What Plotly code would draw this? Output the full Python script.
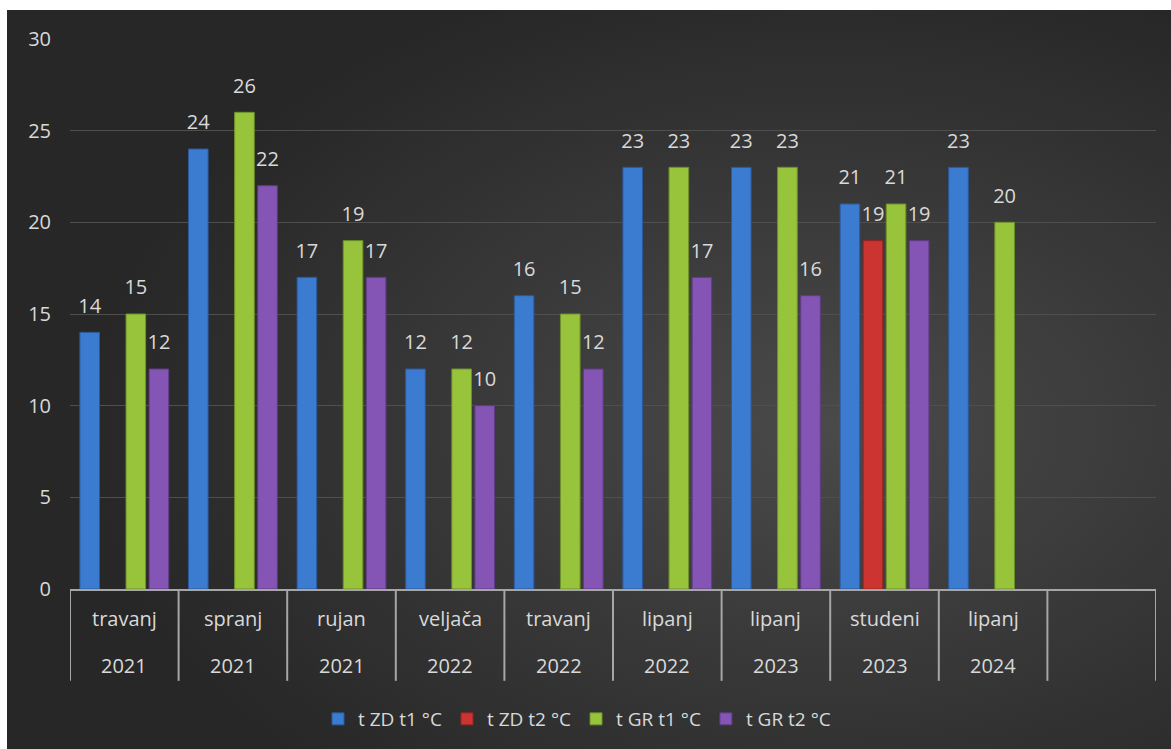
import base64
import plotly.graph_objects as go

# ---- data ----
months = ["travanj", "spranj", "rujan", "veljača", "travanj", "lipanj", "lipanj", "studeni", "lipanj", ""]
years = ["2021", "2021", "2021", "2022", "2022", "2022", "2023", "2023", "2024", ""]
series_names = ["t ZD t1 °C", "t ZD t2 °C", "t GR t1 °C", "t GR t2 °C"]
zd_t1 = [14, 24, 17, 12, 16, 23, 23, 21, 23]
zd_t2 = [None, None, None, None, None, None, None, 19, None]
gr_t1 = [15, 26, 19, 12, 15, 23, 23, 21, 20]
gr_t2 = [12, 22, 17, 10, 12, 17, 16, 19, None]
y_ticks = [0, 5, 10, 15, 20, 25, 30]

# ---- styling ----
colors = ["#3b7bd0", "#cc3431", "#98c43c", "#8455b4"]
edge = ["#2a5a9c", "#952422", "#6f9029", "#5f3c85"]
txt = "#d9d9d9"
FONT = "Open Sans"

W, H = 1171, 749
ml, mr, mt, mb = 70, 15, 39, 159
pw, ph = W - ml - mr, H - mt - mb

def px_x(p):
    return (p - ml) / pw

def px_y(p):
    return (H - mb - p) / ph

keys = [f"{m}|{y}" for m, y in zip(months, years)]
data_keys = keys[:len(zd_t1)]
all_series = [zd_t1, zd_t2, gr_t1, gr_t2]

fig = go.Figure()
for name, vals, c, e in zip(series_names, all_series, colors, edge):
    fig.add_trace(go.Bar(
        x=data_keys, y=vals, name=name, offsetgroup=name,
        marker=dict(color=c, line=dict(color=e, width=1)),
        hoverinfo="skip",
    ))
for name, vals in zip(series_names, all_series):
    fig.add_trace(go.Scatter(
        x=data_keys, y=vals, mode="markers+text", offsetgroup=name,
        text=[("" if v is None else str(v)) for v in vals],
        textposition="top center",
        textfont=dict(family=FONT, size=20, color=txt),
        marker=dict(size=22, opacity=0),
        showlegend=False, hoverinfo="skip", cliponaxis=False,
    ))

# background gradient
svg = f'''<svg xmlns="http://www.w3.org/2000/svg" width="1184" height="759" viewBox="0 0 1184 759" preserveAspectRatio="none">
<defs><radialGradient id="g" cx="0.69" cy="0.55" r="0.62">
<stop offset="0" stop-color="#4a4a4a"/><stop offset="1" stop-color="#272727"/></radialGradient></defs>
<rect width="1184" height="759" fill="url(#g)"/></svg>'''
src = "data:image/svg+xml;base64," + base64.b64encode(svg.encode()).decode()
fig.add_layout_image(dict(
    source=src, xref="paper", yref="paper",
    x=px_x(7), y=px_y(10), sizex=px_x(W + 20) - px_x(7), sizey=px_y(10) - px_y(H + 20),
    xanchor="left", yanchor="top", sizing="stretch", layer="below",
))

# category dividers below axis, plus white outer frame bands
shapes = []
for i in range(len(keys) + 1):
    shapes.append(dict(type="line", xref="x", yref="paper", x0=i - 0.5, x1=i - 0.5,
                       y0=0, y1=px_y(682), line=dict(color="#a6a6a6", width=2)))
shapes.append(dict(type="rect", xref="paper", yref="paper", x0=px_x(-5), x1=px_x(W + 5),
                   y0=px_y(10), y1=px_y(-5), fillcolor="white", line=dict(width=0), layer="above"))
shapes.append(dict(type="rect", xref="paper", yref="paper", x0=px_x(-5), x1=px_x(7),
                   y0=px_y(H + 5), y1=px_y(-5), fillcolor="white", line=dict(width=0), layer="above"))

annotations = []
for k, m, y in zip(keys, months, years):
    if m:
        annotations.append(dict(x=k, y=px_y(620), xref="x", yref="paper", text=m, showarrow=False,
                                font=dict(family=FONT, size=20, color=txt), yanchor="middle"))
        annotations.append(dict(x=k, y=px_y(667), xref="x", yref="paper", text=y, showarrow=False,
                                font=dict(family=FONT, size=20, color=txt), yanchor="middle"))

fig.update_layout(
    width=W, height=H,
    margin=dict(l=ml, r=mr, t=mt, b=mb),
    paper_bgcolor="#2a2a2a", plot_bgcolor="rgba(0,0,0,0)",
    barmode="group", bargap=0.15, bargroupgap=0.15,
    scattermode="group", scattergap=0.15,
    shapes=shapes, annotations=annotations,
    font=dict(family=FONT, color=txt),
    legend=dict(orientation="h", x=px_x(577), xanchor="center", y=px_y(719), yanchor="middle",
                font=dict(family=FONT, size=19, color=txt), bgcolor="rgba(0,0,0,0)",
                itemwidth=30, traceorder="normal"),
    xaxis=dict(type="category", categoryorder="array", categoryarray=keys,
               range=[-0.5, len(keys) - 0.5], showticklabels=False, showgrid=False,
               showline=True, linecolor="#a6a6a6", linewidth=2, zeroline=False, fixedrange=True),
    yaxis=dict(range=[0, 30], tickvals=y_ticks, showgrid=True, gridcolor="#4f4f4f", gridwidth=1,
               zeroline=False, showline=False, ticks="", ticklabelstandoff=18,
               tickfont=dict(family=FONT, size=20, color=txt), fixedrange=True),
)

fig.write_html("out.html", config={"displayModeBar": False},
               post_script="document.body.style.margin='0px';document.body.style.overflow='hidden';")
